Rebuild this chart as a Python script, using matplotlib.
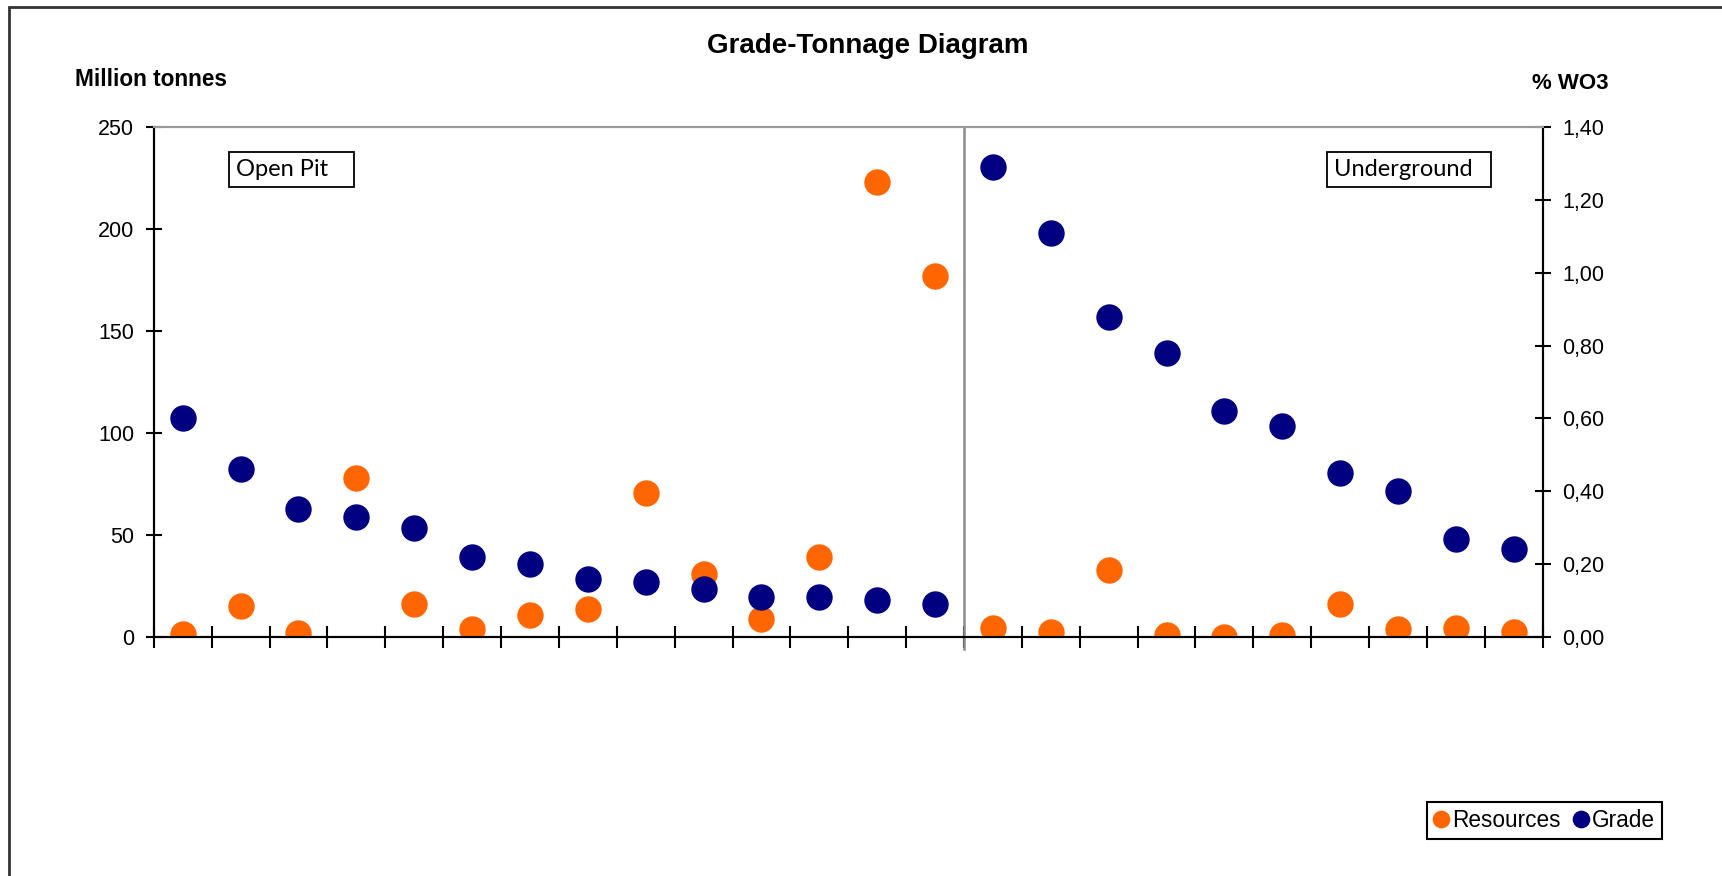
import matplotlib
matplotlib.use("Agg")
import matplotlib.pyplot as plt
from matplotlib.patches import Rectangle
from matplotlib.ticker import FuncFormatter
import numpy as np

plt.rcParams['font.family'] = ['Liberation Sans', 'DejaVu Sans']

# 14 open pit cut-offs, then 10 underground cut-offs
resources = [1.6, 15, 1.8, 78, 16.3, 3.6, 10.7, 13.8, 70.7, 30.8, 8.5, 39.2, 223, 177,
             4.5, 2.2, 32.6, 0.9, 0.0, 0.7, 16.3, 3.6, 4.4, 2.2]
grade = [0.60, 0.46, 0.35, 0.33, 0.30, 0.22, 0.20, 0.16, 0.15, 0.13, 0.11, 0.11, 0.10, 0.09,
         1.29, 1.11, 0.88, 0.78, 0.62, 0.58, 0.45, 0.40, 0.27, 0.24]
n_open_pit = 14

orange = '#FF6600'
navy = '#000080'

fig = plt.figure(figsize=(17.22, 8.76), dpi=100)
ax = fig.add_axes([0.0893, 0.2731, 0.8066, 0.5815])
ax2 = ax.twinx()

x = np.arange(len(resources))
ax.plot(x, resources, 'o', color=orange, markersize=18, zorder=3, label='Resources')
ax2.plot(x, grade, 'o', color=navy, markersize=18, zorder=3, label='Grade')

ax.set_xlim(-0.5, len(resources) - 0.5)
ax.set_ylim(0, 250)
ax2.set_ylim(0, 1.4)
ax.set_yticks(np.arange(0, 251, 50))
ax2.set_yticks(np.arange(0, 1.41, 0.2))
ax2.yaxis.set_major_formatter(FuncFormatter(lambda v, p: ('%.2f' % v).replace('.', ',')))
ax.set_xticks(np.arange(-0.5, len(resources), 1))
ax.set_xticklabels([])

for a in (ax, ax2):
    a.tick_params(axis='y', direction='inout', length=12, width=1.5, labelsize=15.5, pad=8)
    a.spines['top'].set_color('#9a9a9a')
    a.spines['top'].set_linewidth(1.5)
    for s in ('left', 'right', 'bottom'):
        a.spines[s].set_linewidth(1.5)
ax.tick_params(axis='x', direction='inout', length=16, width=1.5)

# divider between open pit and underground
ax.axvline(n_open_pit - 0.5, ymin=-0.025, ymax=1, color='#8c8c8c', lw=1.8, clip_on=False, zorder=2)

box = dict(boxstyle='square,pad=0.3', facecolor='white', edgecolor='black', linewidth=1.3)
ax.text(0.0595, 0.918, 'Open Pit   ', transform=ax.transAxes, fontsize=17, family='Lato',
        va='center', ha='left', bbox=box, zorder=5)
ax.text(0.8495, 0.918, 'Underground  ', transform=ax.transAxes, fontsize=17, family='Lato',
        va='center', ha='left', bbox=box, zorder=5)

fig.text(0.504, 0.947, 'Grade-Tonnage Diagram', fontsize=20, fontweight='bold',
         ha='center', va='center')
fig.text(0.0434, 0.909, 'Million tonnes', fontsize=16.3, fontweight='bold', ha='left', va='center')
fig.text(0.934, 0.905, '% WO3', fontsize=16, fontweight='bold', ha='right', va='center')

h1, l1 = ax.get_legend_handles_labels()
h2, l2 = ax2.get_legend_handles_labels()
leg = fig.legend(h1 + h2, l1 + l2, loc='center', bbox_to_anchor=(0.897, 0.0634), ncol=2,
                 fontsize=16.3, markerscale=0.65, handlelength=0.6, handletextpad=0.2,
                 columnspacing=0.6, borderpad=0.3, fancybox=False, framealpha=1)
leg.get_frame().set_edgecolor('black')
leg.get_frame().set_linewidth(1.5)

# outer chart frame
fig.patches.append(Rectangle((9 / 1722, -0.05), 1.1, 1 - 7 / 876 + 0.05, transform=fig.transFigure,
                             fill=False, edgecolor='#333333', linewidth=2))

fig.savefig('out.png', dpi=100)
